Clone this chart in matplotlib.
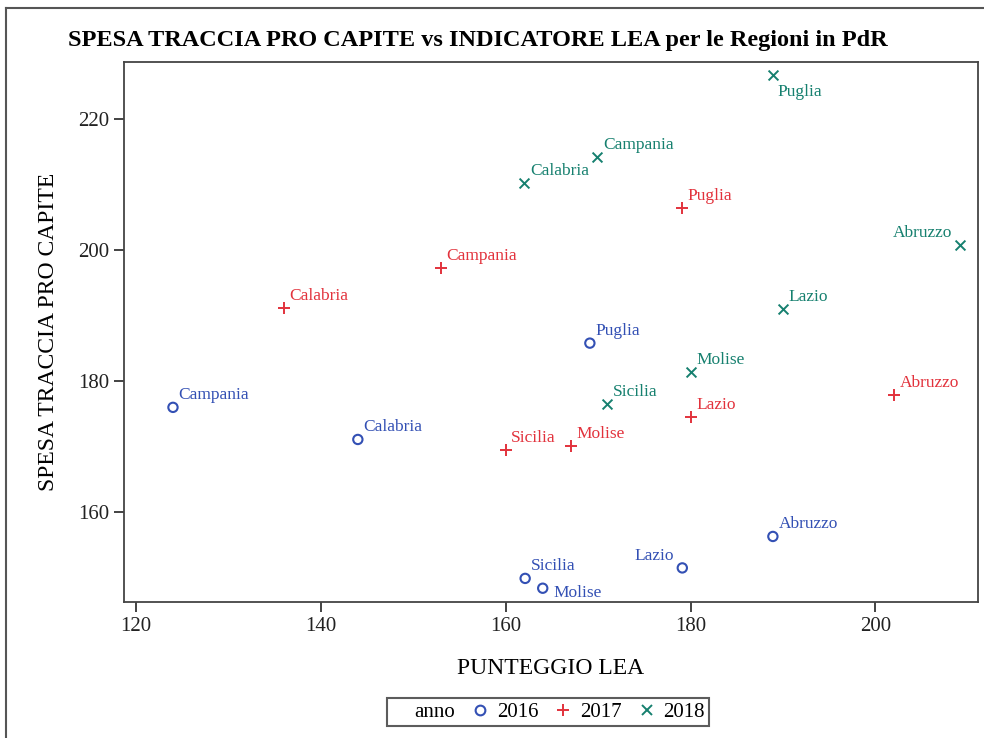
import matplotlib.pyplot as plt
from matplotlib.lines import Line2D

plt.rcParams['font.family'] = ['Liberation Serif', 'DejaVu Serif']

regioni = ['Campania', 'Calabria', 'Puglia', 'Sicilia', 'Molise', 'Lazio', 'Abruzzo']

lea_2016 = [124.0, 144.0, 169.1, 162.1, 164.0, 179.1, 188.9]
spesa_2016 = [176.0, 171.1, 185.8, 149.9, 148.4, 151.5, 156.3]

lea_2017 = [153.0, 136.0, 179.1, 160.0, 167.1, 180.0, 202.0]
spesa_2017 = [197.3, 191.1, 206.4, 169.5, 170.1, 174.5, 177.9]

lea_2018 = [169.9, 162.0, 188.9, 171.0, 180.0, 190.0, 209.1]
spesa_2018 = [214.2, 210.2, 226.7, 176.5, 181.4, 191.0, 200.8]

anni = ['2016', '2017', '2018']

c16 = '#3350b4'
c17 = '#e2323c'
c18 = '#16806f'

fig = plt.figure(figsize=(9.84, 7.38), dpi=100)
ax = fig.add_axes([0.126, 0.1843, 0.868, 0.7317])

ax.scatter(lea_2016, spesa_2016, marker='o', s=45, facecolors='none',
           edgecolors=c16, linewidths=1.5, zorder=3)
ax.scatter(lea_2017, spesa_2017, marker='+', s=70, c=c17, linewidths=1.4, zorder=3)
ax.scatter(lea_2018, spesa_2018, marker='x', s=50, c=c18, linewidths=1.4, zorder=3)

# posizione delle etichette (offset in punti)
default_off = (4, 3)
off_2016 = {'Molise': (8, -9), 'Lazio': (-6, 3)}
off_2017 = {}
off_2018 = {'Puglia': (3, -18), 'Abruzzo': (-5, 3)}


def etichette(xs, ys, color, offs):
    for name, x, y in zip(regioni, xs, ys):
        dx, dy = offs.get(name, default_off)
        ha = 'right' if dx < 0 else 'left'
        ax.annotate(name, (x, y), xytext=(dx, dy), textcoords='offset points',
                    ha=ha, va='bottom', color=color, fontsize=12.5)


etichette(lea_2016, spesa_2016, c16, off_2016)
etichette(lea_2017, spesa_2017, c17, off_2017)
etichette(lea_2018, spesa_2018, c18, off_2018)

ax.set_xlim(118.7, 211.1)
ax.set_ylim(146.3, 228.7)
ax.set_xticks([120, 140, 160, 180, 200])
ax.set_yticks([160, 180, 200, 220])
ax.tick_params(direction='out', length=7, width=1.2, labelsize=15, colors='#222222')
for s in ax.spines.values():
    s.set_color('#444444')
    s.set_linewidth(1.3)

ax.set_xlabel('PUNTEGGIO LEA', fontsize=17, labelpad=16)
ax.set_ylabel('SPESA TRACCIA PRO CAPITE', fontsize=17, labelpad=14)

fig.text(0.486, 0.945, 'SPESA TRACCIA PRO CAPITE vs INDICATORE LEA per le Regioni in PdR',
         ha='center', va='center', fontsize=17.5, fontweight='bold')

handles = [
    Line2D([], [], linestyle='none', label='anno'),
    Line2D([], [], marker='o', linestyle='none', markerfacecolor='none',
           markeredgecolor=c16, markeredgewidth=1.5, markersize=7, label=anni[0]),
    Line2D([], [], marker='+', linestyle='none', color=c17,
           markeredgewidth=1.4, markersize=9, label=anni[1]),
    Line2D([], [], marker='x', linestyle='none', color=c18,
           markeredgewidth=1.4, markersize=7, label=anni[2]),
]
leg = fig.legend(handles=handles, loc='center', bbox_to_anchor=(0.557, 0.035),
                 ncol=4, frameon=True, fancybox=False, fontsize=15,
                 handlelength=0.6, handletextpad=0.5, columnspacing=0.9,
                 borderpad=0.2, borderaxespad=0.2)
leg.get_frame().set_edgecolor('#333333')
leg.get_frame().set_linewidth(1.5)

# cornice esterna (solo sinistra e in alto)
fig.add_artist(Line2D([0.006, 0.006], [0, 0.989], transform=fig.transFigure,
                      color='#555555', linewidth=1.5))
fig.add_artist(Line2D([0.006, 1.0], [0.989, 0.989], transform=fig.transFigure,
                      color='#555555', linewidth=1.5))

fig.savefig('out.png', dpi=100)
